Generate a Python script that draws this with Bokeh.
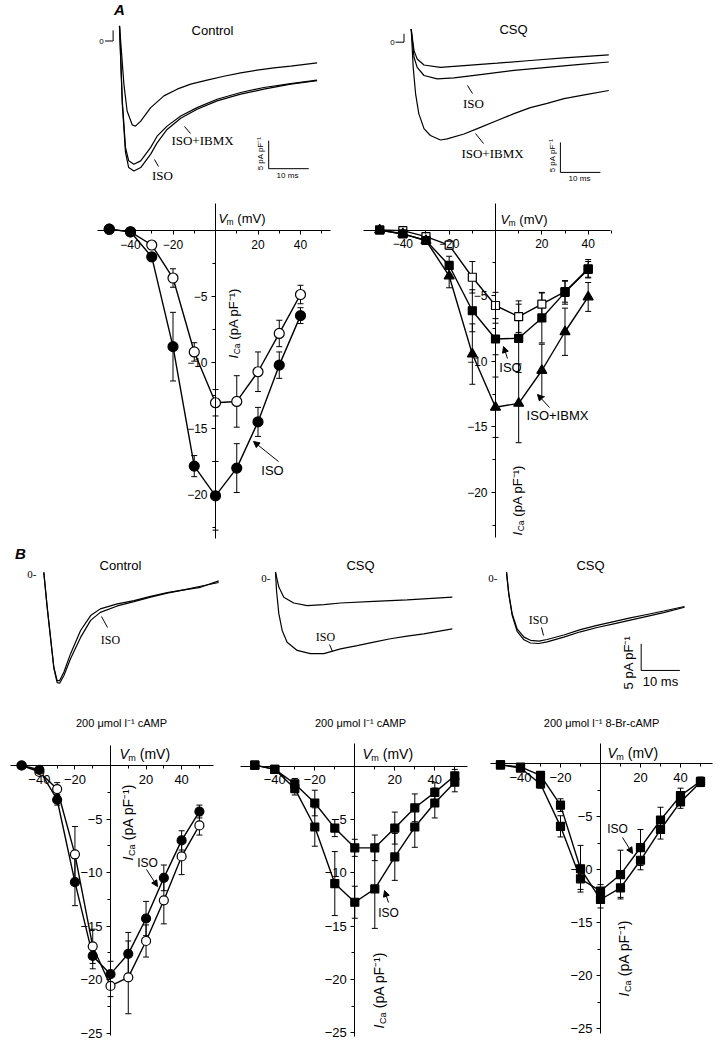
import math
from bokeh.plotting import figure
from bokeh.models import Range1d, LinearAxis, FixedTicker, Arrow, NormalHead
from bokeh.core.properties import value
from bokeh.embed import file_html
from bokeh.resources import INLINE

# ================= DATA =================
# ---- Panel A, current traces (time in ms, current in pA/pF) ----
a_ctl_t = [0, 1.1, 1.9, 3.2, 4.0, 5.3, 7.8, 11.1, 14.4, 17.8, 21.9, 26.1, 30.3, 34.4, 38.6, 42.8, 49.4]
a_ctl_i = [2.7, -7.7, -12.5, -15.0, -15.2, -14.3, -11.9, -9.8, -8.6, -7.7, -7.0, -6.3, -5.7, -5.2, -4.8, -4.5, -3.9]
a_iso_t = [0, 0.7, 1.5, 2.3, 3.6, 5.3, 7.8, 9.4, 11.9, 15.3, 19.4, 24.4, 30.3, 36.1, 42.8, 49.4]
a_iso_i = [2.7, -11.3, -19.9, -22.6, -23.2, -22.6, -20.2, -18.2, -15.8, -13.8, -12.2, -10.7, -9.5, -8.6, -7.7, -7.1]
a_ibmx_i = [2.7, -10.7, -19.0, -21.4, -22.0, -21.4, -19.0, -17.0, -15.2, -13.4, -11.9, -10.4, -9.2, -8.3, -7.6, -7.0]

a_csq_t = [0, 0.7, 1.5, 3.2, 7.3, 13.2, 21.5, 29.8, 38.2, 49.4]
a_csq_i = [2.2, -1.4, -2.8, -3.8, -4.2, -3.9, -3.5, -3.05, -2.6, -2.1]
a_csq_iso_t = [0, 0.7, 1.5, 3.2, 6.5, 10.7, 17.3, 25.7, 34.0, 42.3, 49.4]
a_csq_iso_i = [2.2, -2.5, -4.2, -5.55, -6.1, -5.95, -5.4, -4.7, -4.2, -3.7, -3.3]
a_csq_ibmx_t = [0, 0.5, 1.1, 1.9, 3.2, 4.8, 7.3, 9.0, 13.2, 17.3, 21.5, 25.7, 29.8, 34.0, 38.2, 44.0, 49.4]
a_csq_ibmx_i = [2.2, -4.2, -8.6, -11.9, -14.4, -15.55, -16.3, -16.1, -15.3, -14.2, -13.05, -11.9, -10.9, -10.2, -9.4, -8.7, -8.05]

# ---- Panel A, current-voltage relations (mV, pA/pF, mean and SEM) ----
a_v = [-50, -40, -30, -20, -10, 0, 10, 20, 30, 40]
a_ctl_iv = [0.1, -0.1, -1.1, -3.6, -9.2, -13.05, -12.95, -10.7, -7.8, -4.85]
a_ctl_sem = [0.1, 0.2, 0.3, 0.7, 0.7, 1.0, 1.95, 1.5, 1.0, 0.7]
a_iso_iv = [0.1, -0.1, -2.0, -8.8, -17.85, -20.1, -18.0, -14.5, -10.2, -6.45]
a_iso_sem = [0.1, 0.2, 0.3, 2.6, 0.8, 2.6, 1.85, 1.1, 1.0, 0.6]

a_csq_iv = [0.0, -0.05, -0.5, -1.15, -3.6, -5.75, -6.6, -5.65, -4.7, -2.95]
a_csq_sem = [0.1, 0.1, 0.2, 0.3, 1.2, 1.0, 1.2, 0.9, 0.8, 0.7]
a_csq_iso_iv = [0.0, -0.3, -0.8, -2.7, -6.15, -8.3, -8.25, -6.7, -4.75, -3.0]
a_csq_iso_sem = [0.1, 0.1, 0.2, 0.7, 1.6, 1.2, 2.6, 1.9, 0.9, 0.6]
a_csq_ibmx_iv = [0.0, -0.3, -0.8, -3.5, -9.45, -13.5, -13.2, -10.7, -7.75, -5.1]
a_csq_ibmx_sem = [0.1, 0.1, 0.2, 0.9, 2.3, 2.3, 3.0, 2.0, 1.8, 1.1]

# ---- Panel B, current traces ----
b_ctl_t = [0, 0.87, 1.73, 2.6, 3.45, 4.1, 5.2, 6.9, 9.5, 12.1, 14.6, 19.0, 23.3, 27.6, 31.9, 36.2, 40.5, 45.2]
b_ctl_i = [0.4, -6.1, -11.8, -17.4, -19.9, -19.9, -18.3, -14.9, -10.5, -7.7, -6.45, -5.5, -4.9, -4.1, -3.4, -2.9, -2.2, -1.5]
b_ctl_iso_i = [0.4, -6.1, -11.8, -17.6, -20.3, -20.4, -18.95, -15.8, -11.8, -8.6, -7.1, -5.9, -5.1, -4.25, -3.5, -2.9, -2.4, -1.2]

b_csq_t = [0, 0.86, 2.15, 4.7, 8.2, 12.5, 16.8, 25.4, 34.0, 45.7]
b_csq_i = [1.2, -1.6, -3.5, -4.6, -5.1, -4.9, -4.6, -4.3, -4.0, -3.5]
b_csq_iso_t = [0, 0.26, 0.86, 1.72, 3.0, 5.6, 9.0, 12.5, 16.8, 21.1, 25.4, 29.7, 34.0, 38.3, 45.7]
b_csq_iso_i = [1.2, -2.25, -6.6, -9.75, -11.95, -13.5, -14.1, -14.1, -13.2, -12.6, -11.95, -11.3, -10.8, -10.4, -9.45]

b_br_t = [0, 0.6, 1.46, 2.75, 4.5, 6.2, 8.35, 10.5, 14.8, 19.1, 23.4, 27.7, 32.0, 36.3, 40.6, 46.0]
b_br_i = [1.2, -2.9, -6.6, -9.45, -11.0, -11.6, -11.75, -11.45, -10.6, -9.6, -8.8, -8.1, -7.4, -6.75, -6.1, -5.25]
b_br_iso_i = [1.2, -3.0, -6.9, -9.9, -11.5, -12.1, -12.2, -11.9, -11.0, -10.0, -9.2, -8.5, -7.8, -7.1, -6.4, -5.4]

# ---- Panel B, current-voltage relations ----
b_v = [-50, -40, -30, -20, -10, 0, 10, 20, 30, 40, 50]
b1_ctl = [0.0, -0.6, -2.2, -8.3, -16.9, -20.6, -19.8, -16.4, -12.6, -8.5, -5.6]
b1_ctl_sem = [0.2, 0.3, 0.6, 2.6, 1.6, 1.0, 3.4, 1.5, 2.2, 1.7, 0.9]
b1_iso = [0.0, -0.4, -3.2, -10.9, -17.8, -19.5, -17.6, -14.3, -10.5, -7.0, -4.3]
b1_iso_sem = [0.2, 0.3, 0.5, 2.2, 1.2, 1.2, 2.0, 1.6, 1.2, 0.9, 0.6]

b2_ctl = [0.1, -0.3, -1.65, -3.45, -5.8, -7.65, -7.65, -5.8, -3.9, -2.45, -0.9]
b2_ctl_sem = [0.1, 0.2, 0.5, 1.2, 0.8, 0.8, 1.2, 1.5, 1.3, 0.9, 0.6]
b2_iso = [0.1, -0.3, -2.1, -5.7, -11.0, -12.75, -11.5, -8.5, -5.7, -3.45, -1.5]
b2_iso_sem = [0.1, 0.2, 0.6, 1.8, 3.0, 1.5, 3.7, 2.2, 1.9, 1.4, 0.9]

b3_ctl = [-0.1, -0.3, -1.1, -3.9, -9.9, -12.8, -11.7, -9.1, -6.2, -3.6, -1.75]
b3_ctl_sem = [0.1, 0.2, 0.3, 0.6, 2.2, 0.8, 0.9, 0.9, 0.9, 0.6, 0.4]
b3_iso = [-0.1, -0.4, -1.9, -5.9, -10.85, -12.0, -10.45, -7.9, -5.3, -3.0, -1.65]
b3_iso_sem = [0.1, 0.2, 0.4, 1.0, 1.0, 0.6, 2.3, 1.7, 1.2, 0.7, 0.4]

x_ticks = [-40, -20, 20, 40]
x_minor = [-50, -30, -10, 10, 30, 50]
ya_ticks = [-5, -10, -15, -20]
yb_ticks = [-5, -10, -15, -20, -25]
y_minor = [-2.5, -7.5, -12.5, -17.5, -22.5]
scale_pa = 5     # pA/pF
scale_ms = 10    # ms

# ================= FIGURE =================
W, H = 720, 1046
X0, Y0 = 0, 0          # page offset of the canvas
SANS = "Liberation Sans"
SERIF = "Liberation Serif"

p = figure(width=W, height=H, x_range=Range1d(X0, X0 + W), y_range=Range1d(Y0 + H, Y0),
           x_axis_type=None, y_axis_type=None, toolbar_location=None,
           output_backend="svg", min_border=0, outline_line_color=None)
p.background_fill_color = "white"
p.border_fill_color = "white"


def panel(name, ox, kx, oy, ky):
    """Sub-panel scales: data 0 at page (ox, oy), kx / ky pixels per unit."""
    p.extra_x_ranges[name] = Range1d((X0 - ox) / kx, (X0 + W - ox) / kx)
    p.extra_y_ranges[name] = Range1d((oy - (Y0 + H)) / ky, (oy - Y0) / ky)
    return dict(x_range_name=name, y_range_name=name)


def txt(x, y, s, size=12, font=SANS, style="normal", align="center", baseline="middle", angle=0):
    p.text(x=[x], y=[y], text=[s], text_font=value(font), text_font_size=f"{size}px",
           text_font_style=style, text_align=align, text_baseline=baseline, angle=angle,
           text_color="black")


def vm_label(x, y, s):
    txt(x, y, "V", s, style="italic", align="left")
    txt(x + 0.62 * s, y + 0.3 * s, "m", round(0.65 * s, 1), align="left")
    txt(x + 1.45 * s, y, "(mV)", s, align="left")


def ica_label(x, ybot, s):
    a = math.pi / 2
    txt(x, ybot, "I", s, style="italic", align="left", angle=a)
    txt(x + 0.3 * s, ybot - 0.32 * s, "Ca", round(0.65 * s, 1), align="left", angle=a)
    txt(x, ybot - 1.45 * s, "(pA pF⁻¹)", s, align="left", angle=a)


def iv_axes(kw, xb, yb, yticks, fs):
    common = dict(axis_line_color="black", axis_line_width=1,
                  major_tick_line_color="black", minor_tick_line_color="black",
                  major_label_text_font=SANS, major_label_text_font_size=f"{fs}px",
                  major_label_text_color="black")
    xa = LinearAxis(fixed_location=0, bounds=xb,
                    ticker=FixedTicker(ticks=x_ticks, minor_ticks=x_minor),
                    major_tick_in=0, major_tick_out=4, minor_tick_in=0, minor_tick_out=3,
                    major_label_standoff=5, **kw, **common)
    p.add_layout(xa, "below")
    ya = LinearAxis(fixed_location=0, bounds=yb,
                    ticker=FixedTicker(ticks=yticks, minor_ticks=y_minor),
                    major_tick_in=0, major_tick_out=4, minor_tick_in=0, minor_tick_out=3,
                    major_label_standoff=4, **kw, **common)
    p.add_layout(ya, "left")


def iv_plot(kw, series):
    for V, I, sem, marker, fill, size in series:
        p.line(V, I, line_color="black", line_width=1.4, **kw)
    for V, I, sem, marker, fill, size in series:
        lo = [a - b for a, b in zip(I, sem)]
        hi = [a + b for a, b in zip(I, sem)]
        p.segment(V, lo, V, hi, line_color="black", line_width=1, **kw)
        p.scatter(V + V, lo + hi, marker="dash", size=6, line_color="black", line_width=1, **kw)
    for V, I, sem, marker, fill, size in series:
        p.scatter(V, I, marker=marker, size=size, fill_color=fill, line_color="black",
                  line_width=1.2, **kw)


def trace(kw, t, i, w=1.2):
    p.line(t, i, line_color="black", line_width=w, **kw)


def scale_bar(kw, t0, i0):
    p.line([t0, t0, t0 + scale_ms], [i0, i0 - scale_pa, i0 - scale_pa],
           line_color="black", line_width=1, **kw)


def leader(x0, y0, x1, y1):
    p.segment([x0], [y0], [x1], [y1], line_color="black", line_width=1)


def arrow(x0, y0, x1, y1):
    p.add_layout(Arrow(x_start=x0, y_start=y0, x_end=x1, y_end=y1, line_width=1,
                       line_color="black",
                       end=NormalHead(size=6, fill_color="black", line_color="black")))


# ---------------- Panel A, traces ----------------
txt(119, 9, "A", 15, style="bold italic")

k = panel("a_tr_l", 119, 4.0, 40.5, 5.6)
trace(k, a_ctl_t, a_ctl_i)
trace(k, a_iso_t, a_ibmx_i)
trace(k, a_iso_t, a_iso_i)
p.line([-3.6, -1.6, -1.6], [0, 0, 1.9], line_color="black", line_width=1, **k)
scale_bar(k, 37.3, -17.8)
txt(101, 40.5, "0", 8)
txt(212, 30, "Control", 13)
txt(202, 140, "ISO+IBMX", 13, font=SERIF)
txt(162, 175, "ISO", 13, font=SERIF)
leader(190, 133, 184, 126)
leader(158, 166, 154, 159)
txt(260, 153, "5 pA pF⁻¹", 8, angle=math.pi / 2)
txt(287, 175, "10 ms", 8)

k = panel("a_tr_r", 410.7, 4.0, 41.7, 6.0)
trace(k, a_csq_t, a_csq_i)
trace(k, a_csq_iso_t, a_csq_iso_i)
trace(k, a_csq_ibmx_t, a_csq_ibmx_i)
p.line([-3.9, -1.8, -1.8], [0, 0, 1.4], line_color="black", line_width=1, **k)
scale_bar(k, 37.3, -16.7)
txt(392, 42, "0", 8)
txt(513, 29, "CSQ", 13)
txt(473, 103, "ISO", 13, font=SERIF)
txt(492, 153, "ISO+IBMX", 13, font=SERIF)
leader(467, 85, 472, 93)
leader(475, 133, 483, 143)
txt(552, 155, "5 pA pF⁻¹", 8, angle=math.pi / 2)
txt(579, 177.5, "10 ms", 8)

# ---------------- Panel A, I-V ----------------
k = panel("a_iv_l", 215, 2.125, 230, 13.2)
iv_axes(k, (-55.5, 54.1), (-23.3, 2.05), ya_ticks, 12)
iv_plot(k, [(a_v, a_ctl_iv, a_ctl_sem, "circle", "white", 10),
            (a_v, a_iso_iv, a_iso_sem, "circle", "black", 10)])
vm_label(218, 218, 13)
ica_label(233, 358, 13)
txt(272, 470, "ISO", 13)
arrow(278, 461, 253, 441)

k = panel("a_iv_r", 495, 2.317, 229.5, 13.13)
iv_axes(k, (-57, 49.6), (-23.4, 2.05), ya_ticks, 12)
iv_plot(k, [(a_v, a_csq_iv, a_csq_sem, "square", "white", 8),
            (a_v, a_csq_iso_iv, a_csq_iso_sem, "square", "black", 8),
            (a_v, a_csq_ibmx_iv, a_csq_ibmx_sem, "triangle", "black", 10)])
vm_label(500, 219, 13)
ica_label(517, 535, 13)
txt(510, 367, "ISO", 13)
arrow(507, 358, 503, 346)
txt(557, 415, "ISO+IBMX", 13)
arrow(549, 407, 537, 394)

# ---------------- Panel B, traces ----------------
txt(20, 553, "B", 15, style="bold italic")

k = panel("b_tr_l", 43.3, 3.87, 574, 5.33)
trace(k, b_ctl_t, b_ctl_i)
trace(k, b_ctl_t, b_ctl_iso_i)
txt(120, 565, "Control", 13)
txt(36, 574, "0-", 11, font=SERIF, align="right")
txt(110, 639, "ISO", 12, font=SERIF)
leader(107, 627, 101, 616)

k = panel("b_tr_m", 275, 3.87, 578, 5.33)
trace(k, b_csq_t, b_csq_i)
trace(k, b_csq_iso_t, b_csq_iso_i)
txt(360, 565, "CSQ", 13)
txt(270, 578, "0-", 11, font=SERIF, align="right")
txt(325, 636, "ISO", 12, font=SERIF)
leader(329, 644, 332, 651)

k = panel("b_tr_r", 506, 3.87, 578, 5.33)
trace(k, b_br_t, b_br_i)
trace(k, b_br_t, b_br_iso_i)
scale_bar(k, 34.8, -12.25)
txt(590, 565, "CSQ", 13)
txt(497, 578, "0-", 11, font=SERIF, align="right")
txt(538, 619, "ISO", 12, font=SERIF)
leader(541, 627, 543, 635)
txt(628, 662, "5 pA pF⁻¹", 13, angle=math.pi / 2)
txt(660, 681, "10 ms", 13)

# ---------------- Panel B, I-V ----------------
txt(121, 722, "200 μmol l⁻¹ cAMP", 11)
txt(360, 722, "200 μmol l⁻¹ cAMP", 11)
txt(601, 722, "200 μmol l⁻¹ 8-Br-cAMP", 11)

k = panel("b_iv_l", 110, 1.778, 765, 10.7)
iv_axes(k, (-56.2, 57.9), (-25.2, 1.87), yb_ticks, 13)
iv_plot(k, [(b_v, b1_ctl, b1_ctl_sem, "circle", "white", 9),
            (b_v, b1_iso, b1_iso_sem, "circle", "black", 9)])
vm_label(119, 753, 14)
ica_label(127, 860, 14)
txt(147, 862, "ISO", 12)
arrow(146, 869, 157, 886)

k = panel("b_iv_m", 354.3, 2.0, 765.7, 10.67)
iv_axes(k, (-57.2, 56.4), (-25.3, 2.1), yb_ticks, 13)
iv_plot(k, [(b_v, b2_ctl, b2_ctl_sem, "square", "black", 8),
            (b_v, b2_iso, b2_iso_sem, "square", "black", 8)])
vm_label(362, 753, 14)
ica_label(378, 1028, 14)
txt(388, 912, "ISO", 12)
arrow(388, 902, 384, 890)

k = panel("b_iv_r", 600, 2.0, 763.3, 10.6)
iv_axes(k, (-55, 56), (-25.4, 1.9), yb_ticks, 13)
iv_plot(k, [(b_v, b3_ctl, b3_ctl_sem, "square", "black", 8),
            (b_v, b3_iso, b3_iso_sem, "square", "black", 8)])
vm_label(607, 752, 14)
ica_label(623, 996, 14)
txt(617, 828, "ISO", 12)
arrow(622, 837, 632, 853)

open("out.html", "w").write(file_html(p, INLINE))
